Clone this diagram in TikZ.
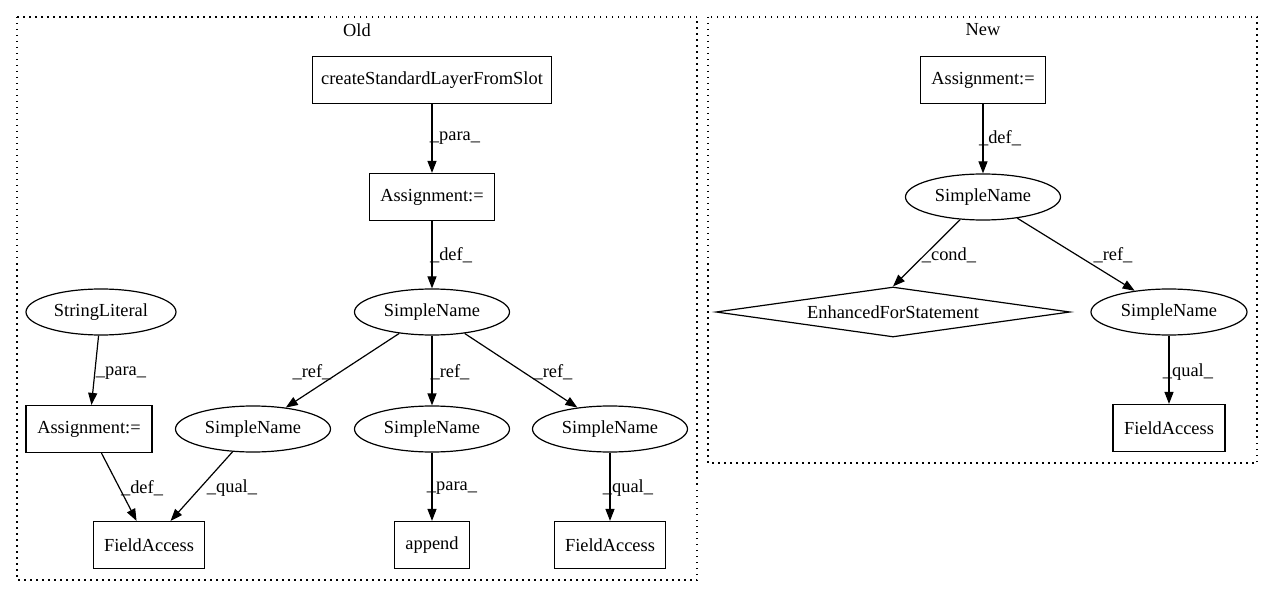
\documentclass[tikz,border=0pt]{standalone}
\usepackage{fontspec}
\setmainfont{Liberation Serif}
\usetikzlibrary{shapes.geometric,arrows.meta}
\begin{document}
\begin{tikzpicture}[x=1pt,y=-1pt,
  every node/.style={font=\fontsize{18.4pt}{21pt}\selectfont, inner sep=0pt},
  boxn/.style={draw, line width=1.2pt, rectangle, minimum height=47pt},
  elln/.style={draw, line width=1.2pt, ellipse, minimum width=155pt, minimum height=46pt},
  diam/.style={draw, line width=1.2pt, diamond, shape aspect=7, minimum width=354pt, minimum height=50pt},
  edge/.style={line width=1.2pt, -{Triangle[length=12pt,width=9pt]}},
  lbl/.style={anchor=center},
  cluster/.style={line width=1.2pt, dash pattern=on 1.5pt off 4.5pt}
]
\useasboundingbox (0,0) rectangle (1275,596);
% clusters
\draw[cluster] (17,17) rectangle (697,580);
\node (oldt) at (357,30) {Old};
\draw[cluster] (708,17) rectangle (1257,463);
\node (newt) at (983,30) {New};

% Old nodes
\node[boxn, minimum width=239pt] (cs) at (432,80) {createStandardLayerFromSlot};
\node[boxn, minimum width=125pt] (a1) at (432,197) {Assignment:=};
\node[elln] (s0) at (432,312) {SimpleName};
\node[elln, minimum width=150pt] (sl) at (101,312) {StringLiteral};
\node[boxn, minimum width=126pt] (a2) at (89,429) {Assignment:=};
\node[elln] (s1) at (253,429) {SimpleName};
\node[elln] (s2) at (432,429) {SimpleName};
\node[elln] (s3) at (610,429) {SimpleName};
\node[boxn, minimum width=111pt] (f1) at (149,545) {FieldAccess};
\node[boxn, minimum width=75pt] (ap) at (432,545) {append};
\node[boxn, minimum width=111pt] (f2) at (610,545) {FieldAccess};

% New nodes
\node[boxn, minimum width=125pt] (na) at (983,80) {Assignment:=};
\node[elln] (ns) at (983,197) {SimpleName};
\node[diam] (ne) at (893,312) {EnhancedForStatement};
\node[elln, minimum width=156pt] (ns2) at (1169,312) {SimpleName};
\node[boxn, minimum width=112pt] (nf) at (1169,428) {FieldAccess};

% Old edges
\draw[edge] (cs) -- (a1) node[lbl] at (455,138) {\_para\_};
\draw[edge] (a1) -- (s0) node[lbl] at (451,255) {\_def\_};
\draw[edge] (s0) -- (s1) node[lbl] at (312,372) {\_ref\_};
\draw[edge] (s0) -- (s2) node[lbl] at (450,372) {\_ref\_};
\draw[edge] (s0) -- (s3) node[lbl] at (553,372) {\_ref\_};
\draw[edge] (sl) -- (a2) node[lbl] at (121,373) {\_para\_};
\draw[edge] (a2) -- (f1) node[lbl] at (142,488) {\_def\_};
\draw[edge] (s1) -- (f1) node[lbl] at (232,488) {\_qual\_};
\draw[edge] (s2) -- (ap) node[lbl] at (452,488) {\_para\_};
\draw[edge] (s3) -- (f2) node[lbl] at (628,488) {\_qual\_};

% New edges
\draw[edge] (na) -- (ns) node[lbl] at (1000,138) {\_def\_};
\draw[edge] (ns) -- (ne.north) node[lbl] at (949,255) {\_cond\_};
\draw[edge] (ns) -- (ns2) node[lbl] at (1113,255) {\_ref\_};
\draw[edge] (ns2) -- (nf) node[lbl] at (1188,372) {\_qual\_};
\end{tikzpicture}
\end{document}
